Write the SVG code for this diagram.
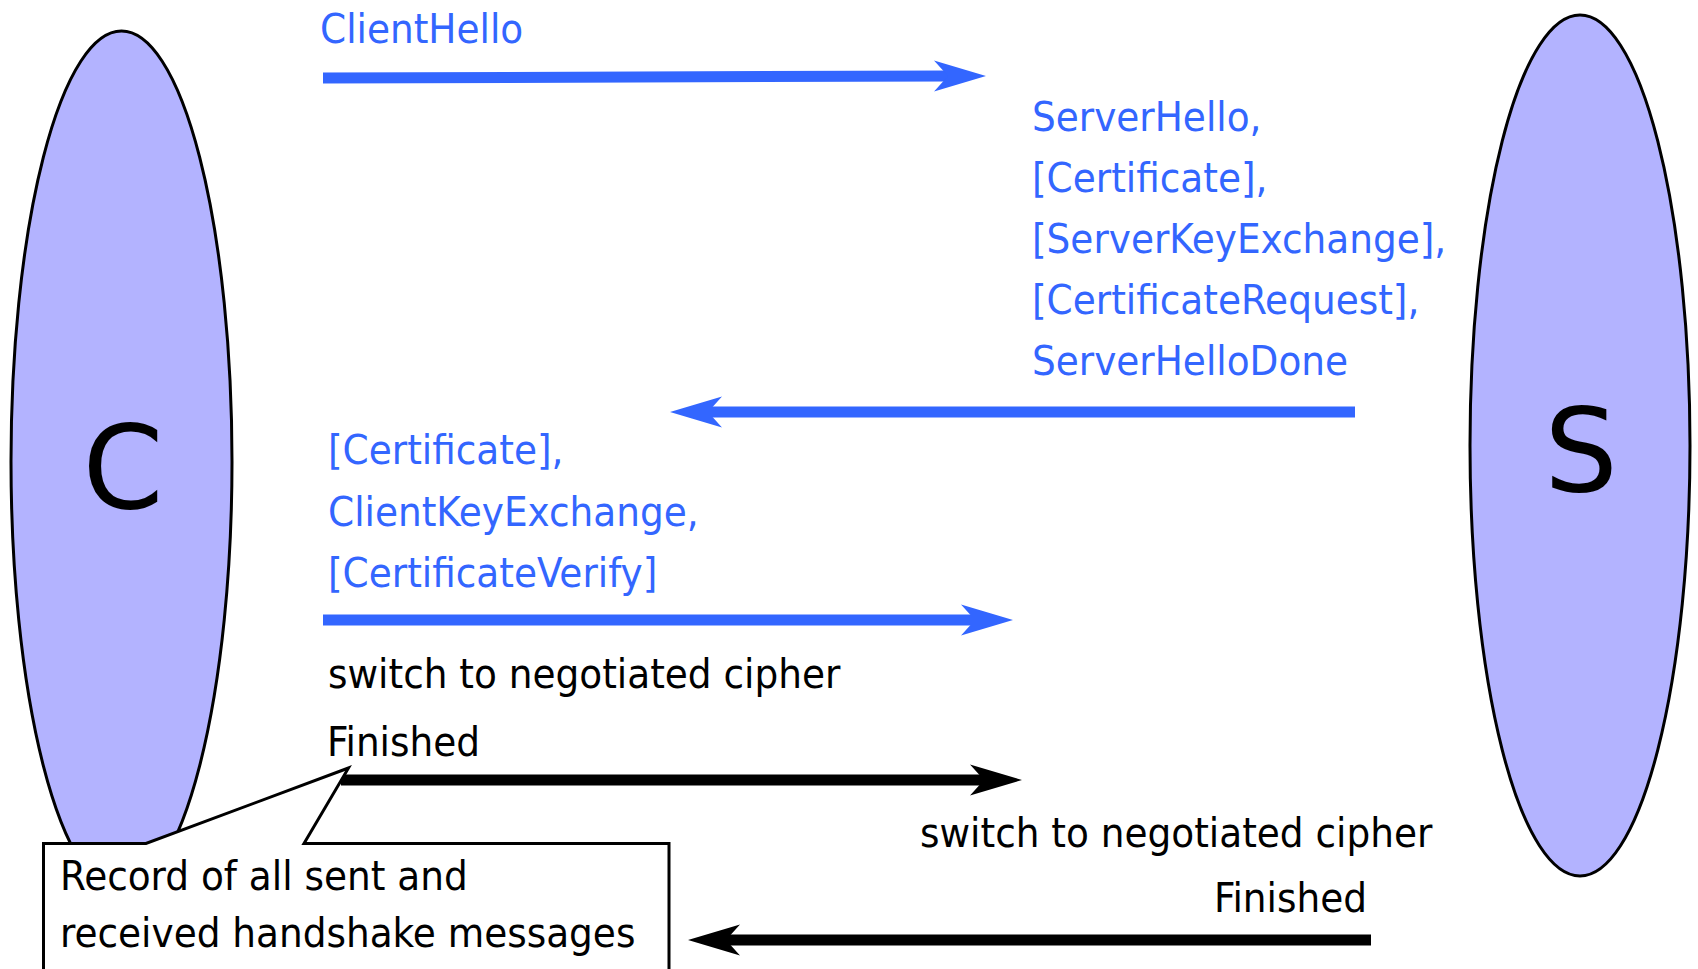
<svg xmlns="http://www.w3.org/2000/svg" width="1698" height="969" viewBox="0 0 1698 969">
  <style>
    .party { fill: #b3b3ff; stroke: #000; stroke-width: 3; }
    .big { font-family: "DejaVu Sans", sans-serif; font-size: 116px; fill: #000; text-anchor: middle; }
    .msg { font-family: "DejaVu Sans Condensed", "DejaVu Sans", sans-serif; font-size: 41.6px; fill: #3366ff; }
    .note { font-family: "DejaVu Sans Condensed", "DejaVu Sans", sans-serif; font-size: 41.6px; fill: #000; }
    .blue { stroke: #3366ff; stroke-width: 11; fill: none; }
    .black { stroke: #000; stroke-width: 11; fill: none; }
    .callout { fill: #fff; stroke: #000; stroke-width: 3; stroke-linejoin: miter; }
  </style>
  <defs>
    <marker id="ahBlue" markerUnits="userSpaceOnUse" viewBox="0 -16 52 32" markerWidth="52" markerHeight="32" refX="14" refY="0" orient="auto">
      <path d="M0,-15.5 L52,0 L0,15.5 L14,0 Z" fill="#3366ff"/>
    </marker>
    <marker id="ahBlack" markerUnits="userSpaceOnUse" viewBox="0 -16 52 32" markerWidth="52" markerHeight="32" refX="14" refY="0" orient="auto">
      <path d="M0,-15.5 L52,0 L0,15.5 L14,0 Z" fill="#000"/>
    </marker>
  </defs>

  <rect width="1698" height="969" fill="#fff"/>

  <g id="client">
    <ellipse class="party" cx="121.5" cy="461.5" rx="110.5" ry="430.5"/>
    <text class="big" x="123" y="508">C</text>
  </g>

  <g id="server">
    <ellipse class="party" cx="1580" cy="445.5" rx="110" ry="430.5"/>
    <text class="big" x="1581" y="491">S</text>
  </g>

  <g id="connectors">
    <line class="blue" x1="323" y1="78" x2="948" y2="76" marker-end="url(#ahBlue)"/>
    <line class="blue" x1="1355" y1="412" x2="708" y2="412" marker-end="url(#ahBlue)"/>
    <line class="blue" x1="323" y1="620" x2="975" y2="620" marker-end="url(#ahBlue)"/>
    <line class="black" x1="341" y1="780" x2="984" y2="780" marker-end="url(#ahBlack)"/>
    <line class="black" x1="1371" y1="940" x2="726" y2="940" marker-end="url(#ahBlack)"/>
  </g>

  <g id="msg-clienthello">
    <text class="msg" x="320" y="43">ClientHello</text>
  </g>

  <g id="msg-serverhello">
    <text class="msg" x="1032" y="131">ServerHello,</text>
    <text class="msg" x="1032" y="192">[Certificate],</text>
    <text class="msg" x="1032" y="253">[ServerKeyExchange],</text>
    <text class="msg" x="1032" y="314">[CertificateRequest],</text>
    <text class="msg" x="1032" y="375">ServerHelloDone</text>
  </g>

  <g id="msg-clientkey">
    <text class="msg" x="328" y="464">[Certificate],</text>
    <text class="msg" x="328" y="526">ClientKeyExchange,</text>
    <text class="msg" x="328" y="587">[CertificateVerify]</text>
  </g>

  <g id="client-finished">
    <text class="note" x="328" y="688">switch to negotiated cipher</text>
    <text class="note" x="327" y="756">Finished</text>
  </g>

  <g id="server-finished">
    <text class="note" x="920" y="847">switch to negotiated cipher</text>
    <text class="note" x="1367" y="912" text-anchor="end">Finished</text>
  </g>

  <g id="callout">
    <path class="callout" d="M43.5,1060 L43.5,843.5 L146,843.5 L348.5,768 L304,843.5 L669,843.5 L669,1060 Z"/>
    <text class="note" x="60" y="890">Record of all sent and</text>
    <text class="note" x="60" y="947">received handshake messages</text>
  </g>
</svg>
